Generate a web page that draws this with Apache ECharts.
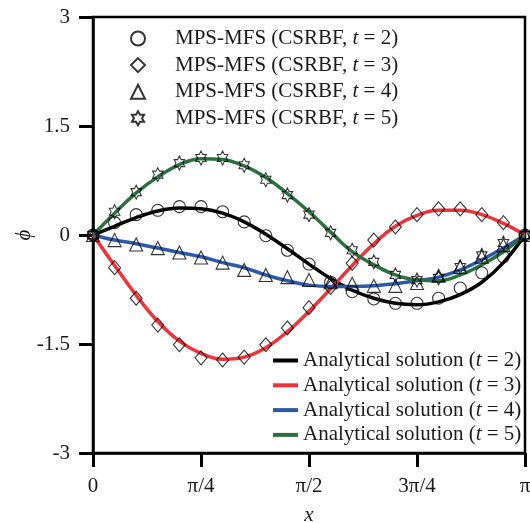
<!DOCTYPE html>
<html>
<head>
<meta charset="utf-8">
<script src="https://cdn.jsdelivr.net/npm/echarts@6/dist/echarts.min.js"></script>
<style>html,body{margin:0;padding:0;background:#fff;}#c{width:530px;height:523px;}</style>
</head>
<body>
<div id="c"></div>
<script>
// x positions in units of pi
const xPi = [0, 0.05, 0.1, 0.15, 0.2, 0.25, 0.3, 0.35, 0.4, 0.45, 0.5, 0.55, 0.6, 0.65, 0.7, 0.75, 0.8, 0.85, 0.9, 0.95, 1];
const xTickLabels = ['0', 'π/4', 'π/2', '3π/4', 'π'];

// Numerical (MPS-MFS, CSRBF) markers
const numT2 = [0, 0.17, 0.28, 0.34, 0.39, 0.39, 0.32, 0.18, -0.01, -0.21, -0.40, -0.65, -0.78, -0.88, -0.94, -0.94, -0.87, -0.73, -0.52, -0.30, 0];
const numT3 = [0, -0.45, -0.87, -1.24, -1.51, -1.69, -1.72, -1.68, -1.51, -1.28, -1.00, -0.72, -0.39, -0.07, 0.11, 0.28, 0.36, 0.36, 0.28, 0.17, 0];
const numT4 = [0, -0.07, -0.13, -0.18, -0.24, -0.31, -0.38, -0.48, -0.55, -0.58, -0.62, -0.65, -0.67, -0.70, -0.70, -0.66, -0.56, -0.44, -0.30, -0.14, 0];
const numT5 = [0, 0.32, 0.59, 0.83, 0.99, 1.06, 1.06, 0.96, 0.76, 0.55, 0.28, 0.03, -0.21, -0.37, -0.55, -0.62, -0.59, -0.44, -0.28, -0.11, 0];

// Analytical solution curves
const anaT2 = [0, 0.12, 0.24, 0.33, 0.37, 0.36, 0.30, 0.18, 0.01, -0.19, -0.40, -0.60, -0.76, -0.87, -0.94, -0.96, -0.92, -0.82, -0.65, -0.38, 0];
const anaT3 = [0, -0.42, -0.83, -1.19, -1.46, -1.63, -1.71, -1.68, -1.55, -1.33, -1.05, -0.74, -0.42, -0.12, 0.12, 0.27, 0.34, 0.34, 0.28, 0.16, 0];
const anaT4 = [0, -0.07, -0.12, -0.18, -0.24, -0.30, -0.38, -0.45, -0.55, -0.63, -0.69, -0.71, -0.71, -0.70, -0.67, -0.63, -0.58, -0.48, -0.34, -0.18, 0];
const anaT5 = [0, 0.30, 0.58, 0.80, 0.97, 1.05, 1.04, 0.95, 0.79, 0.57, 0.32, 0.04, -0.23, -0.41, -0.55, -0.62, -0.63, -0.55, -0.41, -0.23, 0];

const numNames = ['MPS-MFS (CSRBF, t = 2)', 'MPS-MFS (CSRBF, t = 3)', 'MPS-MFS (CSRBF, t = 4)', 'MPS-MFS (CSRBF, t = 5)'];
const anaNames = ['Analytical solution (t = 2)', 'Analytical solution (t = 3)', 'Analytical solution (t = 4)', 'Analytical solution (t = 5)'];
const lineColors = ['#000000', '#f0323a', '#2c5aa8', '#2c7040'];
const starPath = 'path://M100 0 L128.9 50 L186.6 50 L157.7 100 L186.6 150 L128.9 150 L100 200 L71.1 150 L13.4 150 L42.3 100 L13.4 50 L71.1 50 Z';
const symbols = ['circle', 'diamond', 'triangle', starPath];
const symbolSizes = [12, [12, 14], 13, [12, 14]];

const FONT = 'Liberation Serif';
const TXT = '#1a1a1a';

function pairs(ys) { return xPi.map((x, i) => [x, ys[i]]); }
function richName(name) {
  const k = name.lastIndexOf('t = ');
  return name.slice(0, k) + '{i|t}' + name.slice(k + 1);
}

const anaData = [anaT2, anaT3, anaT4, anaT5];
const numData = [numT2, numT3, numT4, numT5];

const series = [];
anaData.forEach((d, i) => {
  series.push({
    name: anaNames[i], type: 'line', data: pairs(d), smooth: 0.4,
    symbol: 'none', showSymbol: false,
    lineStyle: { color: lineColors[i], width: 3.5 },
    itemStyle: { color: lineColors[i] },
    z: 2
  });
});
numData.forEach((d, i) => {
  series.push({
    name: numNames[i], type: 'scatter', data: pairs(d),
    symbol: symbols[i], symbolSize: symbolSizes[i], symbolKeepAspect: true,
    itemStyle: { color: 'rgba(255,255,255,0)', borderColor: '#000', borderWidth: 1.1 },
    z: 3
  });
});

const textStyle = { fontFamily: FONT, fontSize: 21, color: TXT, rich: { i: { fontFamily: FONT, fontSize: 21, fontStyle: 'italic', color: TXT } } };
const textStyle1 = Object.assign({}, textStyle, { padding: [0, 0, 0, 25] });

const chart = echarts.init(document.getElementById('c'), null, { renderer: 'canvas' });
chart.setOption({
  animation: false,
  backgroundColor: '#fff',
  textStyle: { fontFamily: FONT },
  grid: { left: 93, right: 5, top: 17, bottom: 70, containLabel: false, outerBoundsMode: 'none',
    show: true, borderColor: '#000', borderWidth: 2.5, backgroundColor: 'transparent' },
  xAxis: {
    type: 'value', min: 0, max: 1, interval: 0.25,
    name: 'x', nameLocation: 'middle', nameGap: 52, nameMoveOverlap: false,
    nameTextStyle: { fontFamily: FONT, fontSize: 21, fontStyle: 'italic', color: TXT },
    axisLine: { show: true, onZero: false, lineStyle: { color: '#000', width: 2.5 } },
    axisTick: { show: true, inside: false, length: 14, lineStyle: { color: '#000', width: 3 } },
    axisLabel: { margin: 23, fontFamily: FONT, fontSize: 21, color: TXT,
      formatter: v => xTickLabels[Math.round(v / 0.25)] },
    splitLine: { show: false }
  },
  yAxis: {
    type: 'value', min: -3, max: 3, interval: 1.5,
    name: 'ϕ', nameLocation: 'middle', nameGap: 58, nameRotate: 90, nameMoveOverlap: false,
    nameTextStyle: { fontFamily: FONT, fontSize: 21, fontStyle: 'italic', color: TXT },
    axisLine: { show: true, onZero: false, lineStyle: { color: '#000', width: 2.5 } },
    axisTick: { show: true, inside: false, length: 14, lineStyle: { color: '#000', width: 3 } },
    axisLabel: { margin: 23, fontFamily: FONT, fontSize: 21, color: TXT },
    splitLine: { show: false }
  },
  legend: [
    {
      data: numNames, orient: 'vertical', left: 130, top: 28, padding: 0,
      itemWidth: 14, itemHeight: 14, itemGap: 5.6,
      formatter: richName, textStyle: textStyle1
    },
    {
      data: anaNames.map(n => ({ name: n, icon: 'rect' })), orient: 'vertical', left: 273, top: 350, padding: 0,
      itemWidth: 25, itemHeight: 4, itemGap: 3.8,
      formatter: richName, textStyle: textStyle
    }
  ],
  series: series
});
</script>
</body>
</html>
